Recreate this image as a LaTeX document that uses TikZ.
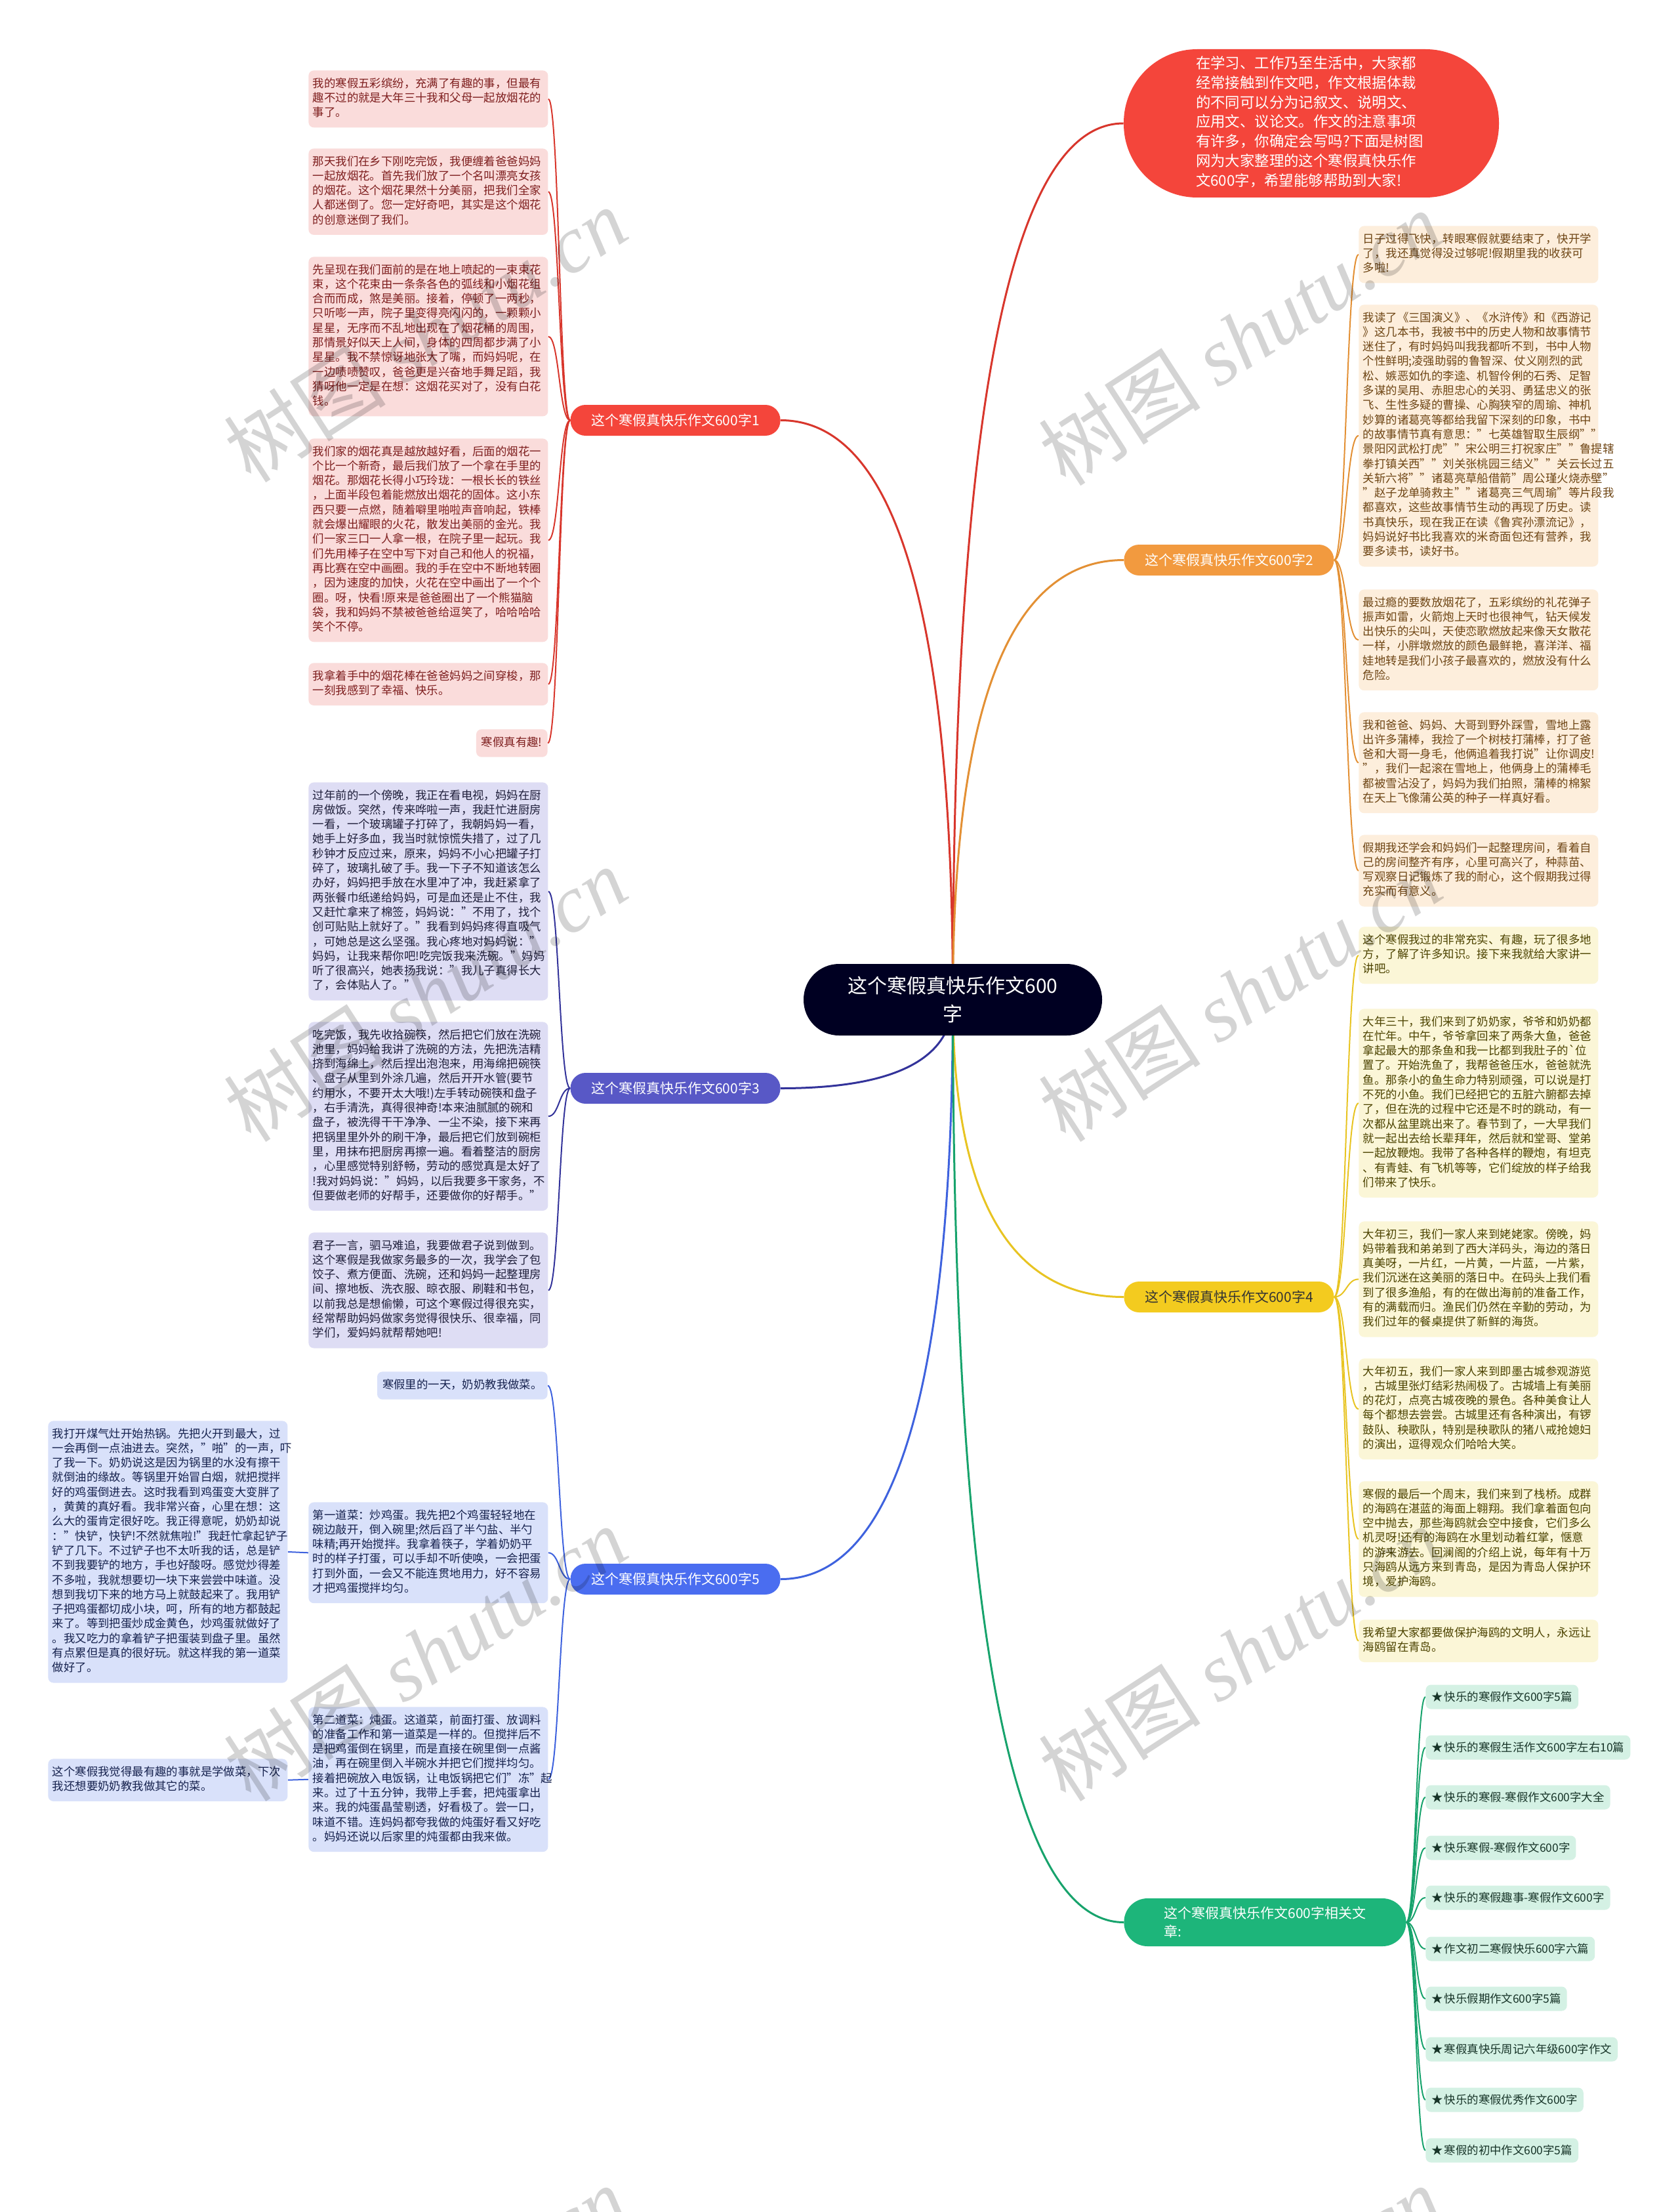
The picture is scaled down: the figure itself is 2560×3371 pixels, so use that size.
\documentclass[tikz,border=0pt]{standalone}
\usepackage{fontspec}
\setmainfont{Noto Sans CJK SC}
\newfontfamily\wmlatin{Liberation Serif}
\usetikzlibrary{calc}
\pgfdeclarelayer{bg}
\pgfsetlayers{bg,main}
\definecolor{ctrfill}{HTML}{000022}
\definecolor{redfill}{HTML}{F4453B}
\definecolor{redln}{HTML}{D8362C}
\definecolor{redbox}{HTML}{FADCDB}
\definecolor{redtxt}{HTML}{7E1E1E}
\definecolor{orgfill}{HTML}{F29A3F}
\definecolor{orgln}{HTML}{E39034}
\definecolor{orgbox}{HTML}{FDEEDC}
\definecolor{orgtxt}{HTML}{6E4514}
\definecolor{purfill}{HTML}{5858C6}
\definecolor{purln}{HTML}{33339A}
\definecolor{purbox}{HTML}{DEDDF4}
\definecolor{purtxt}{HTML}{1E1E3A}
\definecolor{yelfill}{HTML}{F3CB1F}
\definecolor{yelln}{HTML}{E8C422}
\definecolor{yelbox}{HTML}{FBF6D7}
\definecolor{yeltxt}{HTML}{4C4300}
\definecolor{yellbl}{HTML}{333333}
\definecolor{blufill}{HTML}{4A6DF0}
\definecolor{bluln}{HTML}{3E62DE}
\definecolor{blubox}{HTML}{D9E1FA}
\definecolor{blutxt}{HTML}{16224E}
\definecolor{grnfill}{HTML}{1DB57A}
\definecolor{grnln}{HTML}{17A36C}
\definecolor{grnbox}{HTML}{D4F1E4}
\definecolor{grntxt}{HTML}{173428}
\newcommand\boxsz{\fontsize{8.7pt}{11.15pt}\selectfont}
\newcommand\topsz{\fontsize{11.2pt}{14.85pt}\selectfont}
\newcommand\ctrsz{\fontsize{15pt}{21.5pt}\selectfont}
\newcommand\lblsz{\fontsize{10.5pt}{14pt}\selectfont}
\newcommand\wmsz{\fontsize{62pt}{62pt}\selectfont}
\tikzset{
  mmcurve/.style={to path={.. controls ($(\tikztostart)!0.667!(\tikztostart |- \tikztotarget)$) and ($(\tikztotarget)!0.667!(\tikztostart |- \tikztotarget)$) .. (\tikztotarget)}},
  subcurve/.style={to path={.. controls ($(\tikztostart)!0.5!(\tikztostart -| \tikztotarget)$) and ($(\tikztotarget)!0.5!(\tikztotarget -| \tikztostart)$) .. (\tikztotarget)}},
  mainc/.style={line width=1.5pt},
  subc/.style={line width=1pt},
  boxbase/.style={rounded corners=4pt, inner xsep=3.25pt, inner ysep=5pt, align=left, font=\boxsz},
  wbox/.style={boxbase, text width=176pt, anchor=north west},
  sbox/.style={boxbase, inner xsep=4pt, anchor=north east},
  rb/.style={fill=redbox, text=redtxt},
  ob/.style={fill=orgbox, text=orgtxt},
  pb/.style={fill=purbox, text=purtxt},
  yb/.style={fill=yelbox, text=yeltxt},
  bb/.style={fill=blubox, text=blutxt},
  item/.style={boxbase, fill=grnbox, text=grntxt, inner xsep=4.5pt, inner ysep=0pt, minimum height=18.5pt, anchor=west},
  lbl/.style={rounded corners=11.5pt, minimum width=160pt, minimum height=23.5pt, inner sep=2pt, font=\lblsz, text=white, align=center},
  ctrnode/.style={fill=ctrfill, text=white, font=\ctrsz, align=center, minimum width=227.5pt, minimum height=54.5pt, inner sep=0pt, rounded corners=27pt},
  topnode/.style={fill=redfill, text=white, font=\topsz, align=left, text width=176pt, inner xsep=55pt, inner ysep=0pt, minimum height=113pt, rounded corners=56pt},
  wmark/.style={rotate=33, text=black, opacity=0.17, font=\wmsz, inner sep=0pt}
}
\begin{document}
\begin{tikzpicture}[x=0.5pt,y=-0.5pt]
\useasboundingbox (0,0) rectangle (2560,3371);
% ---------- centre and top node
\node[ctrnode] (ctr) at (1452.5,1523.5) {这个寒假真快乐作文600\\字};
\node[topnode] (top) at (1999,188) {\strut 在学习、工作乃至生活中，大家都\\经常接触到作文吧，作文根据体裁\\的不同可以分为记叙文、说明文、\\应用文、议论文。作文的注意事项\\有许多，你确定会写吗?下面是树图\\网为大家整理的这个寒假真快乐作\\文600字，希望能够帮助到大家!\strut};
% ---------- branch labels
\node[lbl, fill=redfill, anchor=east] (br1) at (1190,640.5) {这个寒假真快乐作文600字1};
\node[lbl, fill=orgfill, anchor=west] (br2) at (1713,853.5) {这个寒假真快乐作文600字2};
\node[lbl, fill=purfill, anchor=east] (br3) at (1190,1658.5) {这个寒假真快乐作文600字3};
\node[lbl, fill=yelfill, text=yellbl, anchor=west] (br4) at (1713,1976.5) {这个寒假真快乐作文600字4};
\node[lbl, fill=blufill, anchor=east] (br5) at (1190,2406.5) {这个寒假真快乐作文600字5};
\node[lbl, fill=grnfill, anchor=west, minimum width=215pt, minimum height=36.5pt, align=left, rounded corners=18pt] (br6) at (1713,2929.5) {这个寒假真快乐作文600字相关文\\章:};
% ---------- branch 1
\node[wbox, rb] (b1a) at (470,107) {\strut 我的寒假五彩缤纷，充满了有趣的事，但最有\\趣不过的就是大年三十我和父母一起放烟花的\\事了。\strut};
\node[wbox, rb] (b1b) at (470,226) {\strut 那天我们在乡下刚吃完饭，我便缠着爸爸妈妈\\一起放烟花。首先我们放了一个名叫漂亮女孩\\的烟花。这个烟花果然十分美丽，把我们全家\\人都迷倒了。您一定好奇吧，其实是这个烟花\\的创意迷倒了我们。\strut};
\node[wbox, rb] (b1c) at (470,391) {\strut 先呈现在我们面前的是在地上喷起的一束束花\\束，这个花束由一条条各色的弧线和小烟花组\\合而而成，煞是美丽。接着，停顿了一两秒，\\只听嘭一声，院子里变得亮闪闪的，一颗颗小\\星星，无序而不乱地出现在了烟花桶的周围，\\那情景好似天上人间，身体的四周都步满了小\\星星。我不禁惊讶地张大了嘴，而妈妈呢，在\\一边啧啧赞叹，爸爸更是兴奋地手舞足蹈，我\\猜呀他一定是在想：这烟花买对了，没有白花\\钱。\strut};
\node[wbox, rb] (b1d) at (470,668) {\strut 我们家的烟花真是越放越好看，后面的烟花一\\个比一个新奇，最后我们放了一个拿在手里的\\烟花。那烟花长得小巧玲珑：一根长长的铁丝\\，上面半段包着能燃放出烟花的固体。这小东\\西只要一点燃，随着噼里啪啦声音响起，铁棒\\就会爆出耀眼的火花，散发出美丽的金光。我\\们一家三口一人拿一根，在院子里一起玩。我\\们先用棒子在空中写下对自己和他人的祝福，\\再比赛在空中画圈。我的手在空中不断地转圈\\，因为速度的加快，火花在空中画出了一个个\\圈。呀，快看!原来是爸爸圈出了一个熊猫脑\\袋，我和妈妈不禁被爸爸给逗笑了，哈哈哈哈\\笑个不停。\strut};
\node[wbox, rb] (b1e) at (470,1010) {\strut 我拿着手中的烟花棒在爸爸妈妈之间穿梭，那\\一刻我感到了幸福、快乐。\strut};
\node[sbox, rb] (b1f) at (835,1111) {\strut 寒假真有趣!\strut};
% ---------- branch 2
\node[wbox, ob] (b2a) at (2071,344) {\strut 日子过得飞快，转眼寒假就要结束了，快开学\\了，我还真觉得没过够呢!假期里我的收获可\\多啦!\strut};
\node[wbox, ob] (b2b) at (2071,464) {\strut 我读了《三国演义》、《水浒传》和《西游记\\》这几本书，我被书中的历史人物和故事情节\\迷住了，有时妈妈叫我我都听不到，书中人物\\个性鲜明;凌强助弱的鲁智深、仗义刚烈的武\\松、嫉恶如仇的李逵、机智伶俐的石秀、足智\\多谋的吴用、赤胆忠心的关羽、勇猛忠义的张\\飞、生性多疑的曹操、心胸狭窄的周瑜、神机\\妙算的诸葛亮等都给我留下深刻的印象，书中\\的故事情节真有意思："七英雄智取生辰纲""\\景阳冈武松打虎""宋公明三打祝家庄""鲁提辖\\拳打镇关西""刘关张桃园三结义""关云长过五\\关斩六将""诸葛亮草船借箭"周公瑾火烧赤壁"\\"赵子龙单骑救主""诸葛亮三气周瑜"等片段我\\都喜欢，这些故事情节生动的再现了历史。读\\书真快乐，现在我正在读《鲁宾孙漂流记》，\\妈妈说好书比我喜欢的米奇面包还有营养，我\\要多读书，读好书。\strut};
\node[wbox, ob] (b2c) at (2071,898) {\strut 最过瘾的要数放烟花了，五彩缤纷的礼花弹子\\振声如雷，火箭炮上天时也很神气，钻天候发\\出快乐的尖叫，天使恋歌燃放起来像天女散花\\一样，小胖墩燃放的颜色最鲜艳，喜洋洋、福\\娃地转是我们小孩子最喜欢的，燃放没有什么\\危险。\strut};
\node[wbox, ob] (b2d) at (2071,1085) {\strut 我和爸爸、妈妈、大哥到野外踩雪，雪地上露\\出许多蒲棒，我捡了一个树枝打蒲棒，打了爸\\爸和大哥一身毛，他俩追着我打说"让你调皮!\\"，我们一起滚在雪地上，他俩身上的蒲棒毛\\都被雪沾没了，妈妈为我们拍照，蒲棒的棉絮\\在天上飞像蒲公英的种子一样真好看。\strut};
\node[wbox, ob] (b2e) at (2071,1272) {\strut 假期我还学会和妈妈们一起整理房间，看着自\\己的房间整齐有序，心里可高兴了，种蒜苗、\\写观察日记锻炼了我的耐心，这个假期我过得\\充实而有意义。\strut};
% ---------- branch 3
\node[wbox, pb] (b3a) at (470,1192) {\strut 过年前的一个傍晚，我正在看电视，妈妈在厨\\房做饭。突然，传来哗啦一声，我赶忙进厨房\\一看，一个玻璃罐子打碎了，我朝妈妈一看，\\她手上好多血，我当时就惊慌失措了，过了几\\秒钟才反应过来，原来，妈妈不小心把罐子打\\碎了，玻璃扎破了手。我一下子不知道该怎么\\办好，妈妈把手放在水里冲了冲，我赶紧拿了\\两张餐巾纸递给妈妈，可是血还是止不住，我\\又赶忙拿来了棉签，妈妈说："不用了，找个\\创可贴贴上就好了。"我看到妈妈疼得直吸气\\，可她总是这么坚强。我心疼地对妈妈说："\\妈妈，让我来帮你吧!吃完饭我来洗碗。"妈妈\\听了很高兴，她表扬我说："我儿子真得长大\\了，会体贴人了。"\strut};
\node[wbox, pb] (b3b) at (470,1557) {\strut 吃完饭，我先收拾碗筷，然后把它们放在洗碗\\池里，妈妈给我讲了洗碗的方法，先把洗洁精\\挤到海绵上，然后捏出泡泡来，用海绵把碗筷\\、盘子从里到外涂几遍，然后开开水管(要节\\约用水，不要开太大哦!)左手转动碗筷和盘子\\，右手清洗，真得很神奇!本来油腻腻的碗和\\盘子，被洗得干干净净、一尘不染，接下来再\\把锅里里外外的刷干净，最后把它们放到碗柜\\里，用抹布把厨房再擦一遍。看着整洁的厨房\\，心里感觉特别舒畅，劳动的感觉真是太好了\\!我对妈妈说："妈妈，以后我要多干家务，不\\但要做老师的好帮手，还要做你的好帮手。"\strut};
\node[wbox, pb] (b3c) at (470,1878) {\strut 君子一言，驷马难追，我要做君子说到做到。\\这个寒假是我做家务最多的一次，我学会了包\\饺子、煮方便面、洗碗，还和妈妈一起整理房\\间、擦地板、洗衣服、晾衣服、刷鞋和书包，\\以前我总是想偷懒，可这个寒假过得很充实，\\经常帮助妈妈做家务觉得很快乐、很幸福，同\\学们，爱妈妈就帮帮她吧!\strut};
% ---------- branch 4
\node[wbox, yb] (b4a) at (2071,1412) {\strut 这个寒假我过的非常充实、有趣，玩了很多地\\方，了解了许多知识。接下来我就给大家讲一\\讲吧。\strut};
\node[wbox, yb] (b4b) at (2071,1537) {\strut 大年三十，我们来到了奶奶家，爷爷和奶奶都\\在忙年。中午，爷爷拿回来了两条大鱼，爸爸\\拿起最大的那条鱼和我一比都到我肚子的\textasciigrave 位\\置了。开始洗鱼了，我帮爸爸压水，爸爸就洗\\鱼。那条小的鱼生命力特别顽强，可以说是打\\不死的小鱼。我们已经把它的五脏六腑都去掉\\了，但在洗的过程中它还是不时的跳动，有一\\次都从盆里跳出来了。春节到了，一大早我们\\就一起出去给长辈拜年，然后就和堂哥、堂弟\\一起放鞭炮。我带了各种各样的鞭炮，有坦克\\、有青蛙、有飞机等等，它们绽放的样子给我\\们带来了快乐。\strut};
\node[wbox, yb] (b4c) at (2071,1861) {\strut 大年初三，我们一家人来到姥姥家。傍晚，妈\\妈带着我和弟弟到了西大洋码头，海边的落日\\真美呀，一片红，一片黄，一片蓝，一片紫，\\我们沉迷在这美丽的落日中。在码头上我们看\\到了很多渔船，有的在做出海前的准备工作，\\有的满载而归。渔民们仍然在辛勤的劳动，为\\我们过年的餐桌提供了新鲜的海货。\strut};
\node[wbox, yb] (b4d) at (2071,2070) {\strut 大年初五，我们一家人来到即墨古城参观游览\\，古城里张灯结彩热闹极了。古城墙上有美丽\\的花灯，点亮古城夜晚的景色。各种美食让人\\每个都想去尝尝。古城里还有各种演出，有锣\\鼓队、秧歌队，特别是秧歌队的猪八戒抢媳妇\\的演出，逗得观众们哈哈大笑。\strut};
\node[wbox, yb] (b4e) at (2071,2257) {\strut 寒假的最后一个周末，我们来到了栈桥。成群\\的海鸥在湛蓝的海面上翱翔。我们拿着面包向\\空中抛去，那些海鸥就会空中接食，它们多么\\机灵呀!还有的海鸥在水里划动着红掌，惬意\\的游来游去。回澜阁的介绍上说，每年有十万\\只海鸥从远方来到青岛，是因为青岛人保护环\\境，爱护海鸥。\strut};
\node[wbox, yb] (b4f) at (2071,2468) {\strut 我希望大家都要做保护海鸥的文明人，永远让\\海鸥留在青岛。\strut};
% ---------- branch 5
\node[sbox, bb] (b5a) at (835,2090) {\strut 寒假里的一天，奶奶教我做菜。\strut};
\node[wbox, bb] (b5b) at (470,2289) {\strut 第一道菜：炒鸡蛋。我先把2个鸡蛋轻轻地在\\碗边敲开，倒入碗里;然后舀了半勺盐、半勺\\味精;再开始搅拌。我拿着筷子，学着奶奶平\\时的样子打蛋，可以手却不听使唤，一会把蛋\\打到外面，一会又不能连贯地用力，好不容易\\才把鸡蛋搅拌均匀。\strut};
\node[wbox, bb] (b5c) at (73,2165) {\strut 我打开煤气灶开始热锅。先把火开到最大，过\\一会再倒一点油进去。突然，"啪"的一声，吓\\了我一下。奶奶说这是因为锅里的水没有擦干\\就倒油的缘故。等锅里开始冒白烟，就把搅拌\\好的鸡蛋倒进去。这时我看到鸡蛋变大变胖了\\，黄黄的真好看。我非常兴奋，心里在想：这\\么大的蛋肯定很好吃。我正得意呢，奶奶却说\\："快铲，快铲!不然就焦啦!"我赶忙拿起铲子\\铲了几下。不过铲子也不太听我的话，总是铲\\不到我要铲的地方，手也好酸呀。感觉炒得差\\不多啦，我就想要切一块下来尝尝中味道。没\\想到我切下来的地方马上就鼓起来了。我用铲\\子把鸡蛋都切成小块，呵，所有的地方都鼓起\\来了。等到把蛋炒成金黄色，炒鸡蛋就做好了\\。我又吃力的拿着铲子把蛋装到盘子里。虽然\\有点累但是真的很好玩。就这样我的第一道菜\\做好了。\strut};
\node[wbox, bb] (b5d) at (470,2601) {\strut 第二道菜：炖蛋。这道菜，前面打蛋、放调料\\的准备工作和第一道菜是一样的。但搅拌后不\\是把鸡蛋倒在锅里，而是直接在碗里倒一点酱\\油，再在碗里倒入半碗水并把它们搅拌均匀。\\接着把碗放入电饭锅，让电饭锅把它们"冻"起\\来。过了十五分钟，我带上手套，把炖蛋拿出\\来。我的炖蛋晶莹剔透，好看极了。尝一口，\\味道不错。连妈妈都夸我做的炖蛋好看又好吃\\。妈妈还说以后家里的炖蛋都由我来做。\strut};
\node[wbox, bb] (b5e) at (73,2680) {\strut 这个寒假我觉得最有趣的事就是学做菜，下次\\我还想要奶奶教我做其它的菜。\strut};
% ---------- branch 6
\node[item] (g1) at (2173,2586) {★\hspace{1pt}快乐的寒假作文600字5篇};
\node[item] (g2) at (2173,2663) {★\hspace{1pt}快乐的寒假生活作文600字左右10篇};
\node[item] (g3) at (2173,2739) {★\hspace{1pt}快乐的寒假-寒假作文600字大全};
\node[item] (g4) at (2173,2816) {★\hspace{1pt}快乐寒假-寒假作文600字};
\node[item] (g5) at (2173,2892) {★\hspace{1pt}快乐的寒假趣事-寒假作文600字};
\node[item] (g6) at (2173,2970) {★\hspace{1pt}作文初二寒假快乐600字六篇};
\node[item] (g7) at (2173,3046) {★\hspace{1pt}快乐假期作文600字5篇};
\node[item] (g8) at (2173,3123) {★\hspace{1pt}寒假真快乐周记六年级600字作文};
\node[item] (g9) at (2173,3200) {★\hspace{1pt}快乐的寒假优秀作文600字};
\node[item] (g10) at (2173,3277) {★\hspace{1pt}寒假的初中作文600字5篇};
% ---------- connectors
\begin{pgfonlayer}{bg}
\fill[white] (0,0) rectangle (2560,3371);
\draw[mainc, redln] (ctr.center) to[mmcurve] (top.west);
\draw[mainc, redln] (ctr.center) to[mmcurve] (br1.east);
\draw[mainc, orgln] (ctr.center) to[mmcurve] (br2.west);
\draw[mainc, purln] (ctr.center) to[mmcurve] (br3.east);
\draw[mainc, yelln] (ctr.center) to[mmcurve] (br4.west);
\draw[mainc, bluln] (ctr.center) to[mmcurve] (br5.east);
\draw[mainc, grnln] (ctr.center) to[mmcurve] (br6.west);
\foreach \n in {b1a,b1b,b1c,b1d,b1e,b1f} \draw[subc, redln] (br1.west) to[subcurve] (\n.east);
\foreach \n in {b2a,b2b,b2c,b2d,b2e} \draw[subc, orgln] (br2.east) to[subcurve] (\n.west);
\foreach \n in {b3a,b3b,b3c} \draw[subc, purln] (br3.west) to[subcurve] (\n.east);
\foreach \n in {b4a,b4b,b4c,b4d,b4e,b4f} \draw[subc, yelln] (br4.east) to[subcurve] (\n.west);
\foreach \n in {b5a,b5b,b5d} \draw[subc, bluln] (br5.west) to[subcurve] (\n.east);
\draw[subc, bluln] (b5b.west) -- (b5c.east);
\draw[subc, bluln] (b5d.west) -- (b5e.east);
\foreach \n in {g1,g2,g3,g4,g5,g6,g7,g8,g9,g10} \draw[subc, grnln] (br6.east) to[subcurve] (\n.west);
\end{pgfonlayer}
% ---------- watermarks
\begin{scope}
\clip (0,0) rectangle (2560,3371);
\foreach \wx/\wy [count=\k] in {648/510, 648/1515, 648/2520, 648/3525, 1890/515, 1890/1515, 1890/2520, 1890/3525}
  \node[wmark] (wm\k) at (\wx,\wy) {树图 {\wmlatin\itshape shutu.cn}};
\end{scope}
\end{tikzpicture}
\end{document}
